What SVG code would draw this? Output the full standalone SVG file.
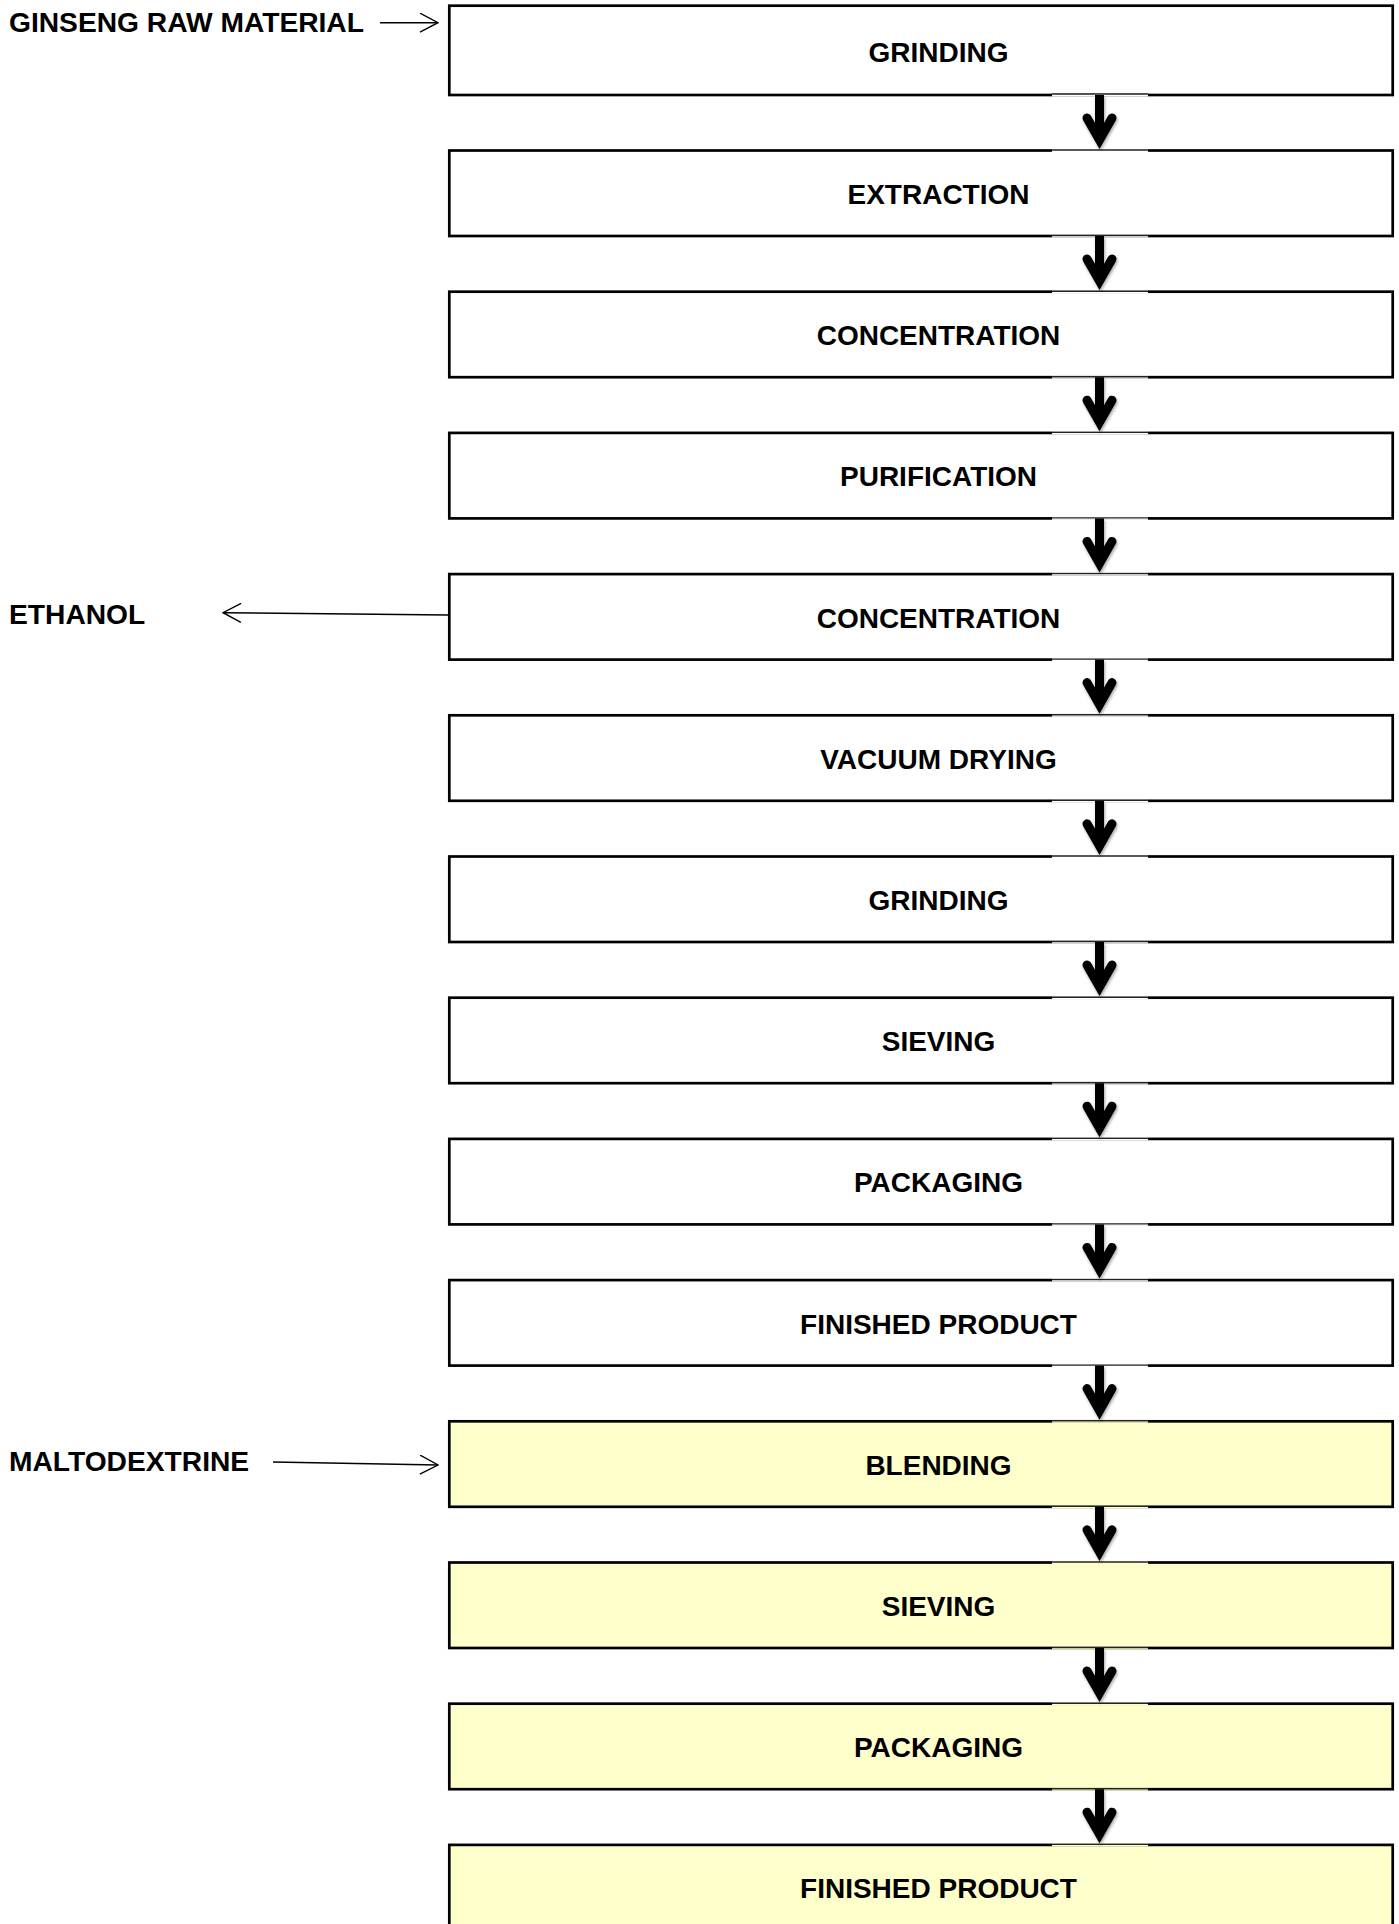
<svg xmlns="http://www.w3.org/2000/svg" xmlns:xlink="http://www.w3.org/1999/xlink" width="1399" height="1924" viewBox="0 0 1399 1924">
<style>
.box{stroke:#000;stroke-width:2.7;fill:#fff}
.y{fill:#ffffcc}
.lbl{font-family:"Liberation Sans",Arial,sans-serif;font-weight:bold;font-size:28px;fill:#000;text-anchor:middle}
.side{font-family:"Liberation Sans",Arial,sans-serif;font-weight:bold;font-size:28.2px;fill:#000}
.thin{stroke:#000;stroke-width:1.4;fill:none}
.big{stroke:#000;stroke-width:9;fill:none}
.seam{stroke:#222;stroke-width:1.4}
</style>
<defs>
<marker id="open" viewBox="0 0 20 20" refX="19" refY="10" markerWidth="20" markerHeight="20" markerUnits="userSpaceOnUse" orient="auto">
<path d="M1,0.5 L19,10 L1,19.5" fill="none" stroke="#000" stroke-width="1.4"/>
</marker>
<filter id="sh" x="-50%" y="-20%" width="200%" height="160%">
<feDropShadow dx="1" dy="2" stdDeviation="1.5" flood-color="#000" flood-opacity="0.35"/>
</filter>
<g id="bigArrow" filter="url(#sh)">
<path class="big" d="M0,0 V42" stroke-linecap="butt"/>
<path class="big" d="M-12.5,23 L0,45 L12.5,23" stroke-linecap="round" stroke-linejoin="miter" stroke-miterlimit="10"/>
</g>
</defs>

<g id="nodes">
<g id="n0"><rect class="box" x="449.3" y="5.7" width="943.4" height="89.3"/><text class="lbl" x="938.5" y="61.5">GRINDING</text></g>
<g id="n1"><rect class="box" x="449.3" y="150.5" width="943.4" height="85.5"/><text class="lbl" x="938.5" y="204">EXTRACTION</text></g>
<g id="n2"><rect class="box" x="449.3" y="291.7" width="943.4" height="85.5"/><text class="lbl" x="938.5" y="345.2">CONCENTRATION</text></g>
<g id="n3"><rect class="box" x="449.3" y="432.9" width="943.4" height="85.5"/><text class="lbl" x="938.5" y="486.4">PURIFICATION</text></g>
<g id="n4"><rect class="box" x="449.3" y="574.1" width="943.4" height="85.5"/><text class="lbl" x="938.5" y="627.6">CONCENTRATION</text></g>
<g id="n5"><rect class="box" x="449.3" y="715.3" width="943.4" height="85.5"/><text class="lbl" x="938.5" y="768.8">VACUUM DRYING</text></g>
<g id="n6"><rect class="box" x="449.3" y="856.5" width="943.4" height="85.5"/><text class="lbl" x="938.5" y="910">GRINDING</text></g>
<g id="n7"><rect class="box" x="449.3" y="997.7" width="943.4" height="85.5"/><text class="lbl" x="938.5" y="1051.2">SIEVING</text></g>
<g id="n8"><rect class="box" x="449.3" y="1138.9" width="943.4" height="85.5"/><text class="lbl" x="938.5" y="1192.4">PACKAGING</text></g>
<g id="n9"><rect class="box" x="449.3" y="1280.1" width="943.4" height="85.5"/><text class="lbl" x="938.5" y="1333.6">FINISHED PRODUCT</text></g>
<g id="n10"><rect class="box y" x="449.3" y="1421.3" width="943.4" height="85.5"/><text class="lbl" x="938.5" y="1474.8">BLENDING</text></g>
<g id="n11"><rect class="box y" x="449.3" y="1562.5" width="943.4" height="85.5"/><text class="lbl" x="938.5" y="1616">SIEVING</text></g>
<g id="n12"><rect class="box y" x="449.3" y="1703.7" width="943.4" height="85.5"/><text class="lbl" x="938.5" y="1757.2">PACKAGING</text></g>
<g id="n13"><rect class="box y" x="449.3" y="1844.9" width="943.4" height="85.5"/><text class="lbl" x="938.5" y="1898.4">FINISHED PRODUCT</text></g>
</g>

<g id="inputs">
<text class="side" x="9" y="31.5">GINSENG RAW MATERIAL</text>
<text class="side" x="9" y="623.7">ETHANOL</text>
<text class="side" x="9" y="1471">MALTODEXTRINE</text>
</g>

<g id="connectors">
<line class="thin" x1="380" y1="22.7" x2="438" y2="22.7" marker-end="url(#open)"/>
<line class="thin" x1="448" y1="615" x2="223" y2="612.7" marker-end="url(#open)"/>
<line class="thin" x1="273" y1="1462" x2="438" y2="1465" marker-end="url(#open)"/>

<g id="seams">
<rect x="1052" y="93.5" width="96" height="3" fill="#fff"/><line class="seam" x1="1052" y1="94" x2="1148" y2="94"/>
<rect x="1052" y="149" width="96" height="3" fill="#fff"/><line class="seam" x1="1052" y1="150" x2="1148" y2="150"/>
<rect x="1052" y="234.5" width="96" height="3" fill="#fff"/><line class="seam" x1="1052" y1="235.5" x2="1148" y2="235.5"/>
<rect x="1052" y="290.2" width="96" height="3" fill="#fff"/><line class="seam" x1="1052" y1="291.2" x2="1148" y2="291.2"/>
<rect x="1052" y="375.7" width="96" height="3" fill="#fff"/><line class="seam" x1="1052" y1="376.7" x2="1148" y2="376.7"/>
<rect x="1052" y="431.4" width="96" height="3" fill="#fff"/><line class="seam" x1="1052" y1="432.4" x2="1148" y2="432.4"/>
<rect x="1052" y="516.9" width="96" height="3" fill="#fff"/><line class="seam" x1="1052" y1="517.9" x2="1148" y2="517.9"/>
<rect x="1052" y="572.6" width="96" height="3" fill="#fff"/><line class="seam" x1="1052" y1="573.6" x2="1148" y2="573.6"/>
<rect x="1052" y="658.1" width="96" height="3" fill="#fff"/><line class="seam" x1="1052" y1="659.1" x2="1148" y2="659.1"/>
<rect x="1052" y="713.8" width="96" height="3" fill="#fff"/><line class="seam" x1="1052" y1="714.8" x2="1148" y2="714.8"/>
<rect x="1052" y="799.3" width="96" height="3" fill="#fff"/><line class="seam" x1="1052" y1="800.3" x2="1148" y2="800.3"/>
<rect x="1052" y="855" width="96" height="3" fill="#fff"/><line class="seam" x1="1052" y1="856" x2="1148" y2="856"/>
<rect x="1052" y="940.5" width="96" height="3" fill="#fff"/><line class="seam" x1="1052" y1="941.5" x2="1148" y2="941.5"/>
<rect x="1052" y="996.2" width="96" height="3" fill="#fff"/><line class="seam" x1="1052" y1="997.2" x2="1148" y2="997.2"/>
<rect x="1052" y="1081.7" width="96" height="3" fill="#fff"/><line class="seam" x1="1052" y1="1082.7" x2="1148" y2="1082.7"/>
<rect x="1052" y="1137.4" width="96" height="3" fill="#fff"/><line class="seam" x1="1052" y1="1138.4" x2="1148" y2="1138.4"/>
<rect x="1052" y="1222.9" width="96" height="3" fill="#fff"/><line class="seam" x1="1052" y1="1223.9" x2="1148" y2="1223.9"/>
<rect x="1052" y="1278.6" width="96" height="3" fill="#fff"/><line class="seam" x1="1052" y1="1279.6" x2="1148" y2="1279.6"/>
<rect x="1052" y="1364.1" width="96" height="3" fill="#fff"/><line class="seam" x1="1052" y1="1365.1" x2="1148" y2="1365.1"/>
<rect x="1052" y="1419.8" width="96" height="3" fill="#ffffcc"/><line class="seam" x1="1052" y1="1420.8" x2="1148" y2="1420.8"/>
<rect x="1052" y="1505.3" width="96" height="3" fill="#ffffcc"/><line class="seam" x1="1052" y1="1506.3" x2="1148" y2="1506.3"/>
<rect x="1052" y="1561" width="96" height="3" fill="#ffffcc"/><line class="seam" x1="1052" y1="1562" x2="1148" y2="1562"/>
<rect x="1052" y="1646.5" width="96" height="3" fill="#ffffcc"/><line class="seam" x1="1052" y1="1647.5" x2="1148" y2="1647.5"/>
<rect x="1052" y="1702.2" width="96" height="3" fill="#ffffcc"/><line class="seam" x1="1052" y1="1703.2" x2="1148" y2="1703.2"/>
<rect x="1052" y="1787.7" width="96" height="3" fill="#ffffcc"/><line class="seam" x1="1052" y1="1788.7" x2="1148" y2="1788.7"/>
<rect x="1052" y="1843.4" width="96" height="3" fill="#ffffcc"/><line class="seam" x1="1052" y1="1844.4" x2="1148" y2="1844.4"/>
</g>

<use xlink:href="#bigArrow" x="1099.5" y="95"/>
<use xlink:href="#bigArrow" x="1099.5" y="236"/>
<use xlink:href="#bigArrow" x="1099.5" y="377.2"/>
<use xlink:href="#bigArrow" x="1099.5" y="518.4"/>
<use xlink:href="#bigArrow" x="1099.5" y="659.6"/>
<use xlink:href="#bigArrow" x="1099.5" y="800.8"/>
<use xlink:href="#bigArrow" x="1099.5" y="942"/>
<use xlink:href="#bigArrow" x="1099.5" y="1083.2"/>
<use xlink:href="#bigArrow" x="1099.5" y="1224.4"/>
<use xlink:href="#bigArrow" x="1099.5" y="1365.6"/>
<use xlink:href="#bigArrow" x="1099.5" y="1506.8"/>
<use xlink:href="#bigArrow" x="1099.5" y="1648"/>
<use xlink:href="#bigArrow" x="1099.5" y="1789.2"/>
</g>
</svg>
